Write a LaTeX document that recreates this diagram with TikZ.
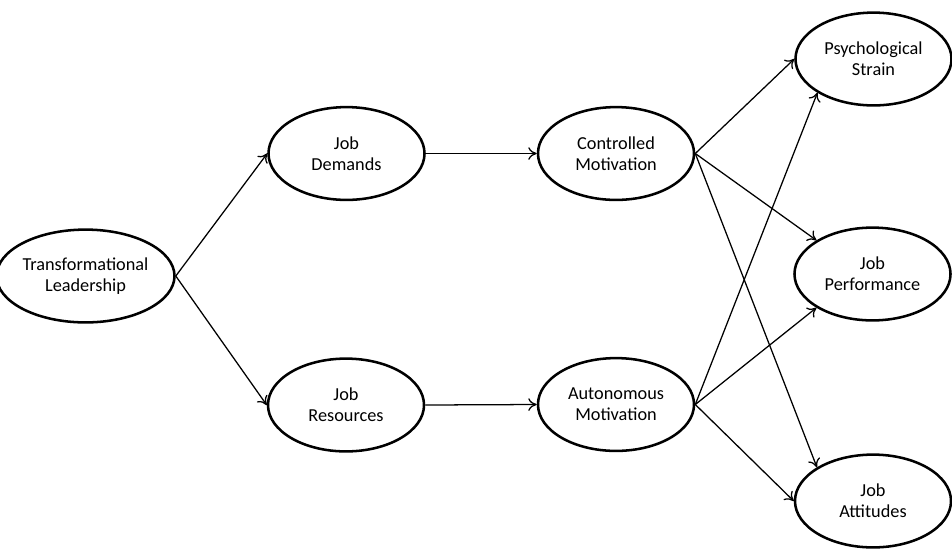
\documentclass[tikz,border=0pt]{standalone}
\usepackage{fontspec}
\setmainfont{Carlito}
\usepackage{tikz}
\usetikzlibrary{shapes.geometric, arrows.meta}

\tikzset{
	construct/.style = {ellipse, draw, line width = 1.8pt, minimum width = 3.9cm, minimum height = 2.32cm, align = center, inner sep = 0pt, font = \fontsize{13}{15}\selectfont},
	path/.style = {line width = 0.9pt, -{To[length = 6pt, width = 9pt]}}
}

\begin{document}
\begin{tikzpicture}[x = 0.025cm, y = -0.025cm]
		\useasboundingbox (0,0) rectangle (952,549);
		
		\node [construct] (lead) at (85.5,276) {Transformational\\Leadership};
		
		\node [construct] (demands) at (346.5,153.5) {Job\\Demands};
		\node [construct] (resources) at (346,405) {Job\\Resources};
		
		\node [construct] (controlled) at (616,153.5) {Controlled\\Motivation};
		\node [construct] (autonomous) at (616,404.5) {Autonomous\\Motivation};
		
		\node [construct] (strain) at (873.5,59) {Psychological\\Strain};
		\node [construct] (performance) at (872.5,274) {Job\\Performance};
		\node [construct] (attitudes) at (873,501) {Job\\Attitudes};
		
		\begin{scope}[path]
			\draw (lead.east) -- (demands.west);
			\draw (lead.east) -- (resources.west);
			\draw (demands.east) -- (controlled.west);
			\draw (resources.east) -- (autonomous.west);
			
			\draw (controlled.east) -- (strain.west);
			\draw (controlled.east) -- (performance.north west);
			\draw (controlled.east) -- (attitudes.north west);
			
			\draw (autonomous.east) -- (strain.south west);
			\draw (autonomous.east) -- (performance.south west);
			\draw (autonomous.east) -- (attitudes.west);
		\end{scope}
	\end{tikzpicture}
\end{document}
